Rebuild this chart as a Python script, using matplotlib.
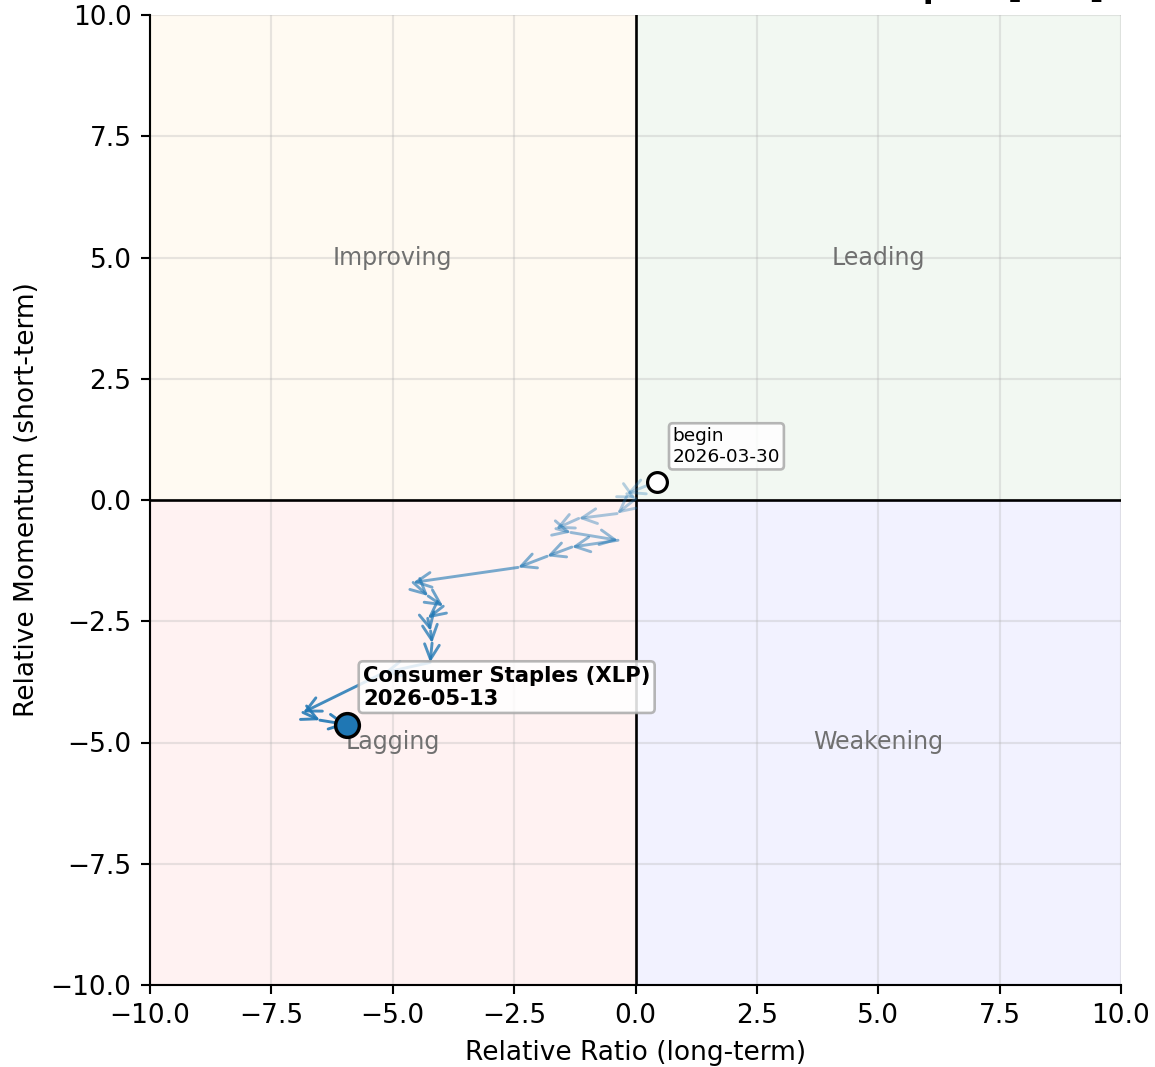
import numpy as np
import matplotlib
matplotlib.use("Agg")
from matplotlib import pyplot as plt

# trail of the sector on the RRG (ratio, momentum), oldest first
rs_ratio = [0.44, -0.18, 0.01, -0.38, -1.17, -1.64, -1.33, -0.36, -1.31, -1.82, -2.42,
            -4.58, -4.27, -3.96, -4.28, -4.22, -4.19, -4.23, -5.18, -6.85, -6.50, -5.94]
rs_momentum = [0.38, 0.13, 0.03, -0.28, -0.38, -0.59, -0.67, -0.83, -0.97, -1.16, -1.39,
               -1.70, -1.98, -2.19, -2.44, -2.70, -2.95, -3.35, -3.56, -4.38, -4.54, -4.63]
start_label = "begin\n2026-03-30"
end_label = "Consumer Staples (XLP)\n2026-05-13"
title = "Sector Rotation \u2014 Consumer Staples [XLP]"
quadrants = ["Improving", "Leading", "Lagging", "Weakening"]
quad_pos = [(-5, 5), (5, 5), (-5, -5), (5, -5)]
quad_colors = ["orange", "green", "red", "blue"]
ticks = [-10, -7.5, -5, -2.5, 0, 2.5, 5, 7.5, 10]

DPI = 190
fig = plt.figure(figsize=(1155 / DPI, 1067 / DPI), dpi=DPI)
ax = fig.add_axes([150 / 1155, 82 / 1067, 971 / 1155, 970 / 1067])

lim = 10
# quadrant backgrounds
ax.fill_between([-lim, 0], 0, lim, color=quad_colors[0], alpha=0.05, lw=0, zorder=0)
ax.fill_between([0, lim], 0, lim, color=quad_colors[1], alpha=0.05, lw=0, zorder=0)
ax.fill_between([-lim, 0], -lim, 0, color=quad_colors[2], alpha=0.05, lw=0, zorder=0)
ax.fill_between([0, lim], -lim, 0, color=quad_colors[3], alpha=0.05, lw=0, zorder=0)

for name, (qx, qy) in zip(quadrants, quad_pos):
    ax.text(qx, qy, name, ha="center", va="center", fontsize=9, color="#707070", zorder=1)

ax.axhline(0, color="black", lw=1.0, zorder=2)
ax.axvline(0, color="black", lw=1.0, zorder=2)

# trail arrows, fading older points
n = len(rs_ratio)
alphas = np.linspace(0.3, 0.9, n - 1)
for i in range(n - 1):
    ax.annotate("", xy=(rs_ratio[i + 1], rs_momentum[i + 1]), xytext=(rs_ratio[i], rs_momentum[i]),
                arrowprops=dict(arrowstyle="->", color="#1f77b4", lw=1.1, alpha=alphas[i],
                                mutation_scale=14, shrinkA=0, shrinkB=0), zorder=3)

ax.plot(rs_ratio[0], rs_momentum[0], "o", ms=7.5, mfc="white", mec="black", mew=1.2, zorder=5)
ax.plot(rs_ratio[-1], rs_momentum[-1], "o", ms=9, mfc="#1f77b4", mec="black", mew=1.3, zorder=5)

ax.annotate(start_label, (rs_ratio[0], rs_momentum[0]), xytext=(6, 6), textcoords="offset points",
            fontsize=7, ha="left", va="bottom", zorder=6,
            bbox=dict(boxstyle="round,pad=0.2", fc="white", ec="#aaaaaa", alpha=0.85))
ax.annotate(end_label, (rs_ratio[-1], rs_momentum[-1]), xytext=(6, 6), textcoords="offset points",
            fontsize=8, fontweight="bold", ha="left", va="bottom", zorder=6,
            bbox=dict(boxstyle="round,pad=0.2", fc="white", ec="#aaaaaa", alpha=0.85))

ax.set_xlim(-lim, lim)
ax.set_ylim(-lim, lim)
ax.set_xticks(ticks)
ax.set_yticks(ticks)
ax.grid(True, alpha=0.3)
ax.set_axisbelow(True)
ax.spines["top"].set_visible(False)
ax.spines["right"].set_visible(False)
ax.set_xlabel("Relative Ratio (long-term)")
ax.set_ylabel("Relative Momentum (short-term)")

# title sits mostly above the canvas, only descenders show
fig.text(1104 / 1155, 1 + 3 / 1067, title, ha="right", va="baseline", fontsize=12, fontweight="bold")

fig.savefig("out.png", dpi=DPI)
